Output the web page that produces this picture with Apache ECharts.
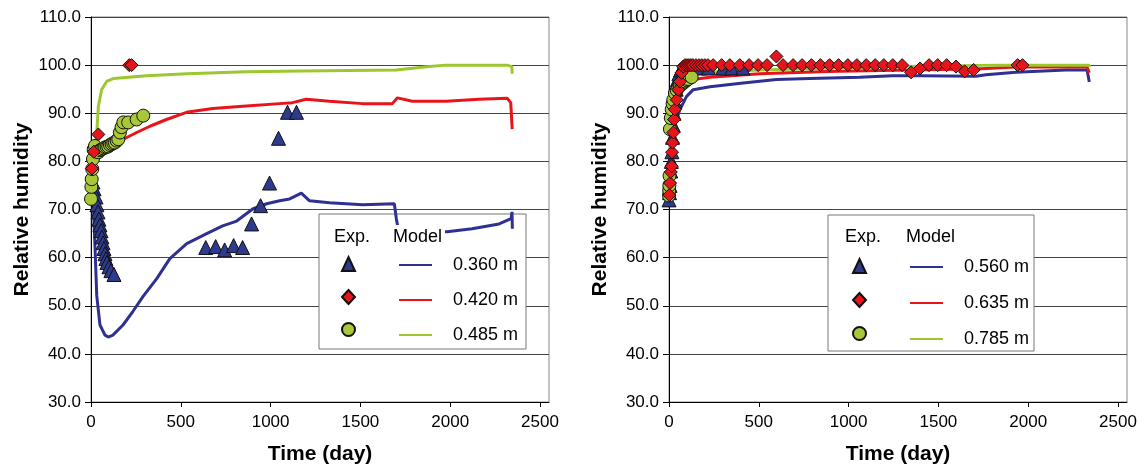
<!DOCTYPE html>
<html>
<head>
<meta charset="utf-8">
<script src="https://cdn.jsdelivr.net/npm/echarts@6/dist/echarts.min.js"></script>
<style>html,body{margin:0;padding:0;background:#fff}#c{width:1147px;height:470px}</style>
</head>
<body>
<div id="c"></div>
<script>
const xTicks = [0, 500, 1000, 1500, 2000, 2500];
const yTicks = [30, 40, 50, 60, 70, 80, 90, 100, 110];
const depthsLeft = ['0.360 m', '0.420 m', '0.485 m'];
const depthsRight = ['0.560 m', '0.635 m', '0.785 m'];

// Left chart: experimental [day, RH]
const L_exp360 = [[11,75.7],[17,74.3],[28,72.6],[33,71],[39,69.5],[44,68],[50,66.8],[56,65.6],[61,64.3],[67,63.1],[72,61.9],[78,60.8],[83,59.8],[89,59],[100,58.1],[111,57.3],[128,56.5],[639,62.1],[694,62.3],[744,61.6],[794,62.5],[844,62.1],[894,67.0],[944,70.8],[994,75.5],[1044,84.8],[1094,90.2],[1144,90.2]];
const L_exp420 = [[5,78.5],[15,82],[41,85.6],[213,100],[226,100]];
const L_exp485 = [[0,72.2],[2,74.7],[4,76.3],[7,78.4],[11,80.5],[15,82.5],[22,83.2],[33,82],[41,81.9],[50,82.3],[59,82.5],[69,82.7],[78,82.9],[87,83],[96,83.1],[106,83.4],[115,83.6],[124,83.8],[133,83.9],[143,84.3],[152,84.6],[161,86],[170,87.1],[180,88.1],[207,88.1],[254,88.7],[291,89.5]];
// Left chart: model
const L_mod360 = [[0,75],[11,72.8],[22,62.5],[32,52.1],[50,46],[78,43.9],[96,43.5],[122,43.9],[178,46],[233,48.8],[289,51.9],[367,55.7],[439,59.8],[533,62.9],[644,65],[733,66.6],[811,67.6],[900,70.1],[978,71.2],[1050,71.8],[1106,72.2],[1171,73.4],[1217,71.8],[1328,71.4],[1511,71],[1689,71.2],[1700,68.1],[1712,65.6],[1983,65.4],[2122,66],[2272,67],[2339,68.1],[2344,69.5],[2346,66]];
const L_mod420 = [[0,79],[8,82],[22,84],[60,83.5],[124,83.1],[180,84.6],[254,86],[328,87.3],[420,88.7],[532,90.2],[678,91],[865,91.5],[1050,92],[1122,92.2],[1198,92.9],[1328,92.5],[1511,92],[1678,92],[1706,93.2],[1789,92.5],[1978,92.5],[2161,92.9],[2317,93.1],[2337,92.2],[2345,86.7]];
const L_mod485 = [[10,80],[25,83.5],[32,86],[41,91.4],[59,94.9],[87,96.6],[124,97.2],[309,97.8],[532,98.2],[865,98.6],[1178,98.8],[1698,99],[1883,99.7],[1976,100],[2317,100],[2343,99.7],[2345,98.2]];

// Right chart: experimental
const R_exp560 = [[0,72],[3,73.5],[6,75],[10,78],[13,80],[16,82],[20,85],[24,87.5],[28,90],[33,92.5],[40,95],[47,97],[55,98.2],[65,99],[78,99.4],[100,99.5],[130,99.5],[170,99.4],[220,99.4],[300,99.4],[350,99.4],[411,99.4]];
const R_exp635 = [[2,73],[6,75.5],[10,77.8],[15,79],[17,81.9],[20,83.9],[24,86],[28,88.7],[33,90.8],[43,92.8],[52,94.9],[61,96.6],[70,98.4],[79,99.7],[89,100],[100,100],[111,100],[122,100],[133,100],[150,100],[167,100],[183,100],[200,100],[217,100],[246,100],[293,100],[339,100],[394,100],[446,100],[496,100],[546,100],[598,101.8],[635,100],[691,100],[741,100],[793,100],[843,100],[894,100],[944,100],[996,100],[1046,100],[1098,100],[1148,100],[1196,100],[1246,100],[1298,100],[1348,98.5],[1398,99.3],[1448,100],[1496,100],[1546,100],[1598,99.7],[1646,98.7],[1696,99],[1941,100],[1968,100]];
const R_exp785 = [[0,72.9],[1,74],[2,75],[3,77],[5,86.7],[10,89],[15,90.8],[20,92],[24,92.8],[33,94.2],[43,94.8],[52,95.3],[61,95.7],[70,96],[80,96.3],[89,96.6],[98,96.9],[107,97.1],[126,97.5]];
// Right chart: model
const R_mod560 = [[0,72],[10,78],[20,84],[35,88],[61,90.8],[98,93.5],[135,94.9],[228,95.5],[413,96.3],[598,97],[783,97.2],[1061,97.5],[1244,97.8],[1394,97.8],[1709,97.7],[1765,98],[1931,98.5],[2210,99],[2328,99],[2340,96.5]];
const R_mod635 = [[0,74],[10,82],[25,90],[50,94],[80,96],[135,97],[228,97.5],[506,98.2],[876,98.7],[1339,99],[1709,99.2],[1931,99.6],[2328,99.6],[2340,98.4]];
const R_mod785 = [[0,73],[10,85],[25,93],[45,96],[78,97.7],[135,98.4],[506,99],[1283,99.7],[1839,100],[2339,100],[2341,99.6]];

const BLUE = '#2E3192', RED = '#E8141B', GREEN = '#9DC72F';
const GREEN_M = '#A8C83A', BLUE_M = '#2E3A8C';
const FONT = '"Liberation Sans", Arial, sans-serif';

function xAxis(gi) {
  return {
    type: 'value', gridIndex: gi, min: 0, max: 2550, interval: 500,
    axisLine: { show: true, lineStyle: { color: '#000', width: 1 } },
    axisTick: { show: true, inside: false, length: 5, lineStyle: { color: '#000' }, customValues: xTicks },
    axisLabel: { customValues: xTicks, fontSize: 17, color: '#000', fontFamily: FONT, margin: 12, formatter: v => String(v) },
    splitLine: { show: false },
    name: 'Time (day)', nameLocation: 'middle', nameGap: 42,
    nameTextStyle: { fontSize: 21, fontWeight: 'bold', color: '#000', fontFamily: FONT }
  };
}
function yAxis(gi) {
  return {
    type: 'value', gridIndex: gi, min: 30, max: 110, interval: 10,
    axisLine: { show: true, onZero: false, lineStyle: { color: '#000', width: 1 } },
    axisTick: { show: true, inside: false, length: 6, lineStyle: { color: '#000' }, customValues: yTicks },
    axisLabel: { customValues: yTicks, fontSize: 17, color: '#000', fontFamily: FONT, margin: 10, formatter: v => v.toFixed(1) },
    splitLine: { show: true, lineStyle: { color: '#444', width: 1 } },
    name: 'Relative humidity', nameLocation: 'middle', nameGap: 58,
    nameTextStyle: { fontSize: 21, fontWeight: 'bold', color: '#000', fontFamily: FONT }
  };
}
function lineS(name, gi, data, color) {
  return { type: 'line', name, xAxisIndex: gi, yAxisIndex: gi, data, symbol: 'none', showSymbol: false,
    lineStyle: { color, width: 3 }, itemStyle: { color }, z: 3, animation: false };
}
function scat(name, gi, data, symbol, color, size) {
  return { type: 'scatter', name, xAxisIndex: gi, yAxisIndex: gi, data, symbol, symbolSize: size,
    itemStyle: { color, borderColor: '#111', borderWidth: 1, opacity: 1 }, z: 5, animation: false };
}

const series = [
  lineS(depthsLeft[0], 0, L_mod360, BLUE),
  lineS(depthsLeft[1], 0, L_mod420, RED),
  lineS(depthsLeft[2], 0, L_mod485, GREEN),
  scat('Exp. ' + depthsLeft[0], 0, L_exp360, 'triangle', BLUE_M, 14),
  scat('Exp. ' + depthsLeft[2], 0, L_exp485, 'circle', GREEN_M, 13),
  scat('Exp. ' + depthsLeft[1], 0, L_exp420, 'diamond', RED, 13),
  lineS(depthsRight[0], 1, R_mod560, BLUE),
  lineS(depthsRight[1], 1, R_mod635, RED),
  lineS(depthsRight[2], 1, R_mod785, GREEN),
  scat('Exp. ' + depthsRight[0], 1, R_exp560, 'triangle', BLUE_M, 14),
  scat('Exp. ' + depthsRight[2], 1, R_exp785, 'circle', GREEN_M, 13),
  scat('Exp. ' + depthsRight[1], 1, R_exp635, 'diamond', RED, 13)
];

function legendPair(depths, iconLeft, lineLeft, top, gap) {
  return [{
    data: depths.map(d => 'Exp. ' + d), orient: 'vertical', left: iconLeft, top,
    itemWidth: 13, itemHeight: 14, itemGap: gap, padding: 0, formatter: () => '',
    selectedMode: false, z: 20, textStyle: { fontSize: 14, lineHeight: 14 }
  }, {
    data: depths.map(d => ({ name: d, icon: 'path://M0,0L33,0L33,2L0,2Z' })), orient: 'vertical', left: lineLeft, top,
    itemWidth: 33, itemHeight: 14, itemGap: gap, padding: 0, selectedMode: false, z: 20,
    formatter: n => '{t|' + n + '}',
    textStyle: { fontSize: 18, color: '#000', fontFamily: FONT, lineHeight: 14,
      rich: { t: { fontSize: 18, fontFamily: FONT, color: '#000', padding: [0, 0, 0, 16], lineHeight: 14 } } }
  }];
}

function legendBox(x, y, w, h, expX, modelX, hy) {
  return [
    { type: 'rect', z: 1, shape: { x, y, width: w, height: h }, style: { fill: '#fff', stroke: '#777', lineWidth: 1 } },
    { type: 'text', z: 20, style: { text: 'Exp.', x: expX, y: hy, font: '18px ' + FONT, fill: '#000', verticalAlign: 'middle' } },
    { type: 'text', z: 20, style: { text: 'Model', x: modelX, y: hy, font: '18px ' + FONT, fill: '#000', verticalAlign: 'middle', backgroundColor: '#fff', padding: [3, 3, 3, 0] } }
  ];
}

const option = {
  backgroundColor: '#fff',
  animation: false,
  grid: [
    { left: 91, top: 17, width: 458, height: 387, show: true, borderColor: '#888', borderWidth: 1, backgroundColor: 'transparent' },
    { left: 669, top: 17, width: 458, height: 387, show: true, borderColor: '#888', borderWidth: 1, backgroundColor: 'transparent' }
  ],
  xAxis: [xAxis(0), xAxis(1)],
  yAxis: [yAxis(0), yAxis(1)],
  legend: [...legendPair(depthsLeft, 341, 399, 256, 17), ...legendPair(depthsRight, 852, 910, 258, 18)],
  graphic: { elements: [
    ...legendBox(319, 214, 207, 135, 334, 393, 237),
    ...legendBox(828, 215, 206, 136, 845, 906, 237)
  ] },
  series
};

const chart = echarts.init(document.getElementById('c'), null, { renderer: 'canvas' });
chart.setOption(option);
</script>
</body>
</html>
